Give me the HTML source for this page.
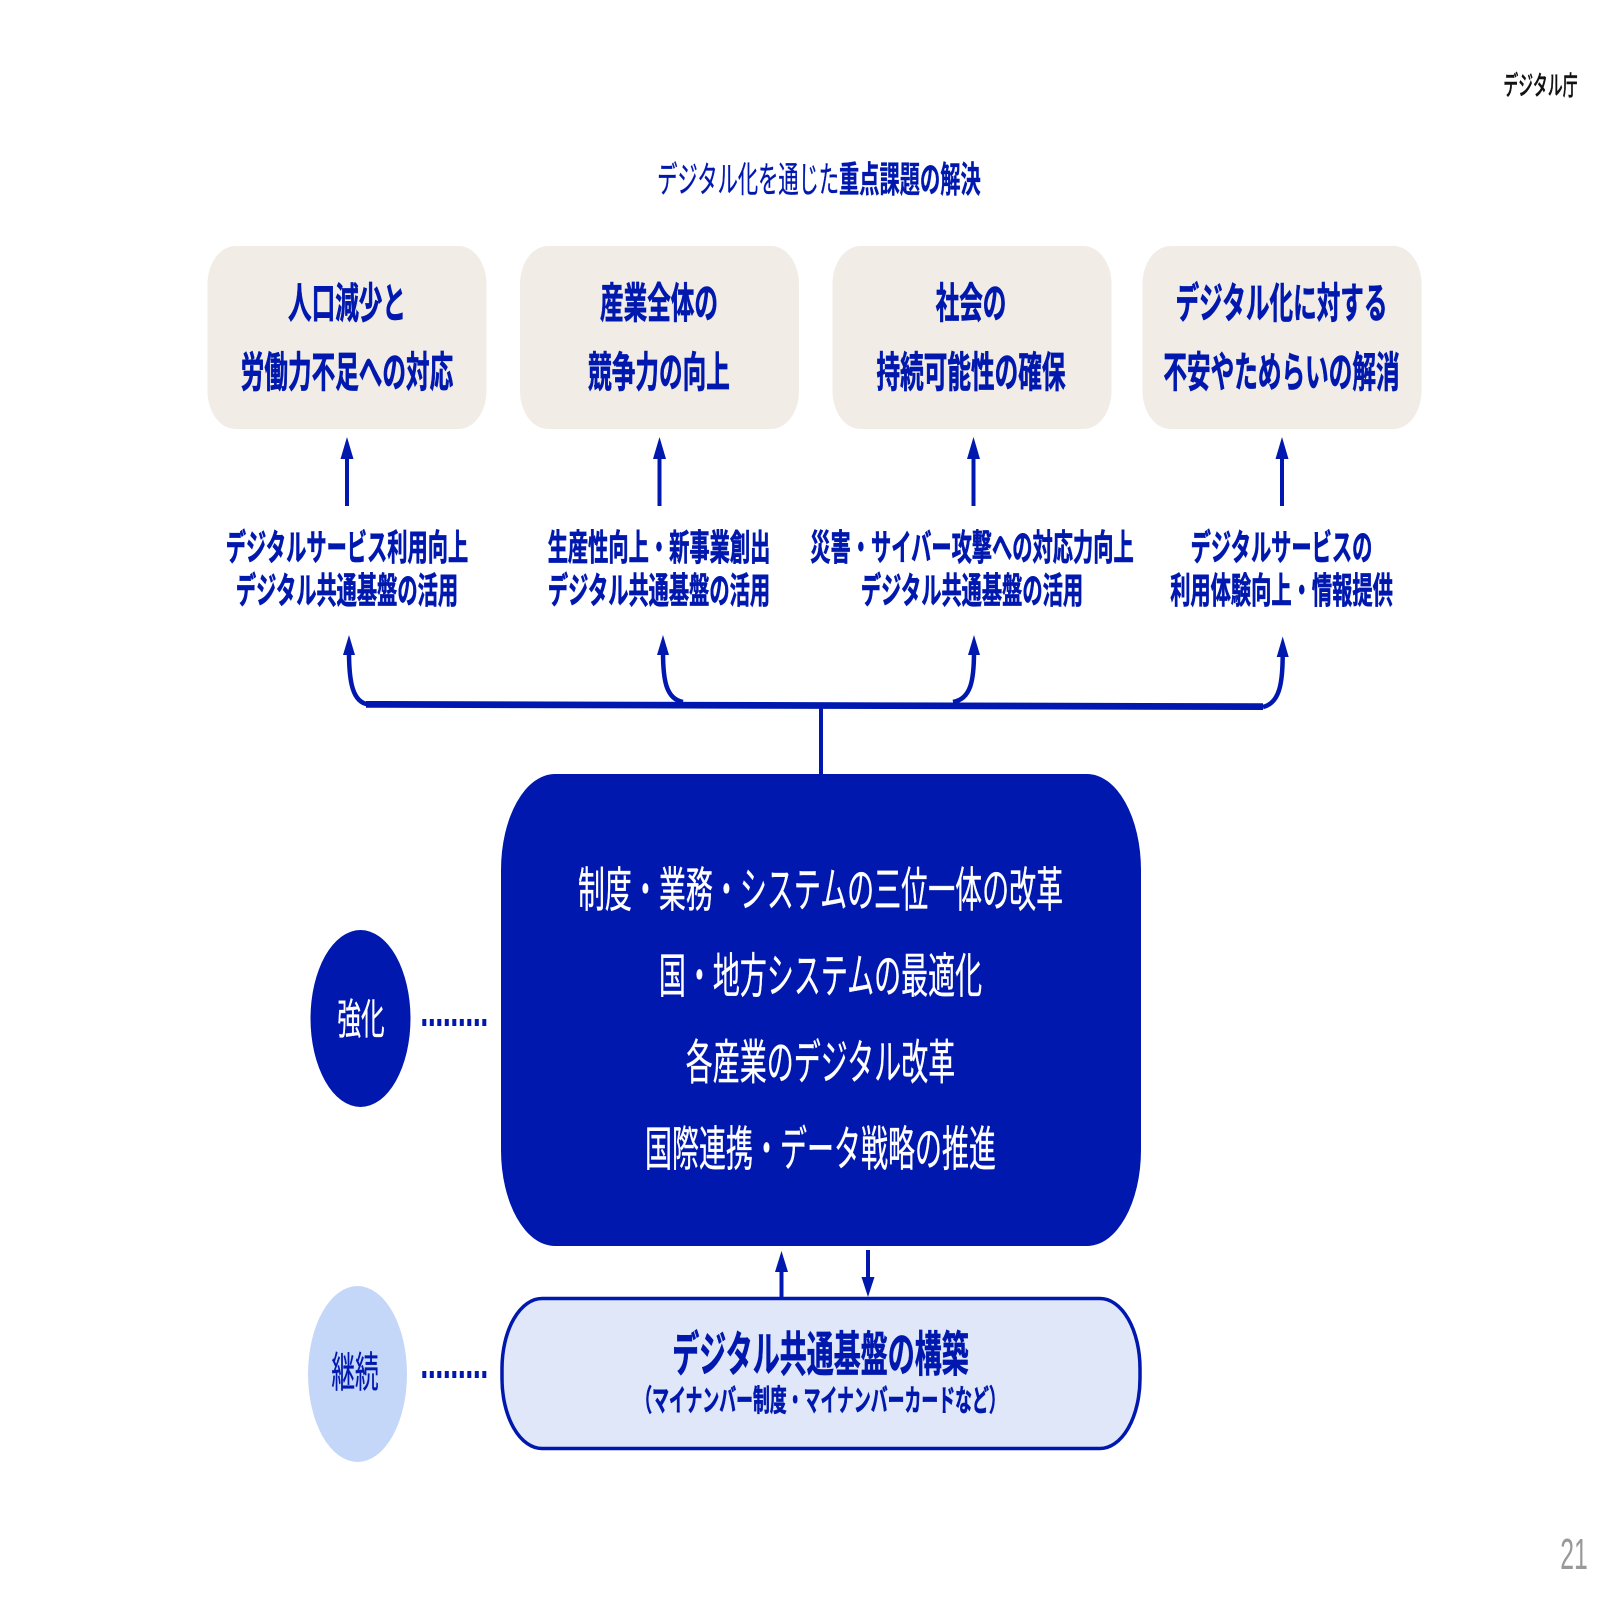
<!DOCTYPE html>
<html lang="ja">
<head>
<meta charset="utf-8">
<title>デジタル化を通じた重点課題の解決</title>
<style>
html,body{margin:0;padding:0;background:#fff;width:1620px;height:1620px;overflow:hidden}
svg{display:block}
text{font-family:"Liberation Sans","Noto Sans CJK JP",sans-serif;text-anchor:middle}
.b{font-weight:700;fill:#0018ae;stroke:#0018ae;stroke-width:.7}
.w{font-weight:400;fill:#fff;stroke:#fff;stroke-width:.35}
</style>
</head>
<body>
<svg xmlns="http://www.w3.org/2000/svg" width="1620" height="1620" viewBox="0 0 1620 1620">
<rect width="1620" height="1620" fill="#fff"/>

<text transform="translate(1540.500,95) scale(.5625,1)" font-size="26.500" font-weight="500" fill="#111" stroke="#111" stroke-width=".4">デジタル庁</text>
<text transform="translate(819,192) scale(.5625,1)" font-size="36" fill="#0018ae" stroke="#0018ae" stroke-width=".35">デジタル化を通じた<tspan font-weight="700">重点課題の解決</tspan></text>

<!-- top boxes -->
<g fill="#f1ede6">
<rect x="207.500" y="246" width="279" height="183" rx="28" ry="38"/>
<rect x="520" y="246" width="279" height="183" rx="28" ry="38"/>
<rect x="832.500" y="246" width="279" height="183" rx="28" ry="38"/>
<rect x="1142.500" y="246" width="279" height="183" rx="28" ry="38"/>
</g>
<g font-size="42">
<text class="b" transform="translate(347,318) scale(.5625,1)">人口減少と</text>
<text class="b" transform="translate(347,387) scale(.5625,1)">労働力不足への対応</text>
<text class="b" transform="translate(659,318) scale(.5625,1)">産業全体の</text>
<text class="b" transform="translate(659,387) scale(.5625,1)">競争力の向上</text>
<text class="b" transform="translate(971,318) scale(.5625,1)">社会の</text>
<text class="b" transform="translate(971,387) scale(.5625,1)">持続可能性の確保</text>
<text class="b" transform="translate(1281.500,318) scale(.5625,1)">デジタル化に対する</text>
<text class="b" transform="translate(1281.500,387) scale(.5625,1)">不安やためらいの解消</text>
</g>

<!-- up arrows -->
<g fill="#0018ae">
<rect x="345" y="456" width="4" height="50"/><polygon points="347,437 340.500,459 353.500,459"/>
<rect x="657.500" y="456" width="4" height="50"/><polygon points="659.500,437 653,459 666,459"/>
<rect x="971.500" y="456" width="4" height="50"/><polygon points="973.500,437 967,459 980,459"/>
<rect x="1280" y="456" width="4" height="50"/><polygon points="1282,437 1275.500,459 1288.500,459"/>
</g>

<!-- mid labels -->
<g font-size="36">
<text class="b" transform="translate(347,560) scale(.5625,1)">デジタルサービス利用向上</text>
<text class="b" transform="translate(347,603) scale(.5625,1)">デジタル共通基盤の活用</text>
<text class="b" transform="translate(659,560) scale(.5625,1)">生産性向上・新事業創出</text>
<text class="b" transform="translate(659,603) scale(.5625,1)">デジタル共通基盤の活用</text>
<text class="b" transform="translate(972,560) scale(.5625,1)">災害・サイバー攻撃への対応力向上</text>
<text class="b" transform="translate(972,603) scale(.5625,1)">デジタル共通基盤の活用</text>
<text class="b" transform="translate(1281.500,560) scale(.5625,1)">デジタルサービスの</text>
<text class="b" transform="translate(1281.500,603) scale(.5625,1)">利用体験向上・情報提供</text>
</g>

<!-- bracket -->
<polygon points="366,701 1263,703.300 1263,710 366,707.700" fill="#0018ae"/>
<g fill="none" stroke="#0018ae" stroke-width="4.500">
<path d="M349 652 C349 680 352 703 369 704.500"/>
<path d="M663 652 C663 680 666 699 683 702"/>
<path d="M974 652 C974 680 971 699 953 702"/>
<path d="M1282.700 654 C1282.700 682 1280 703 1263 707"/>
</g>
<g fill="#0018ae">
<polygon points="349,635 343,655 355,655"/>
<polygon points="663,635 657,655 669,655"/>
<polygon points="974,635 968,655 980,655"/>
<polygon points="1282.700,636.500 1276.700,657 1288.700,657"/>
<rect x="819" y="706" width="4" height="70"/>
</g>

<!-- main box -->
<rect x="501" y="774" width="640" height="472" rx="54" ry="96" fill="#0018ae"/>
<g font-size="48">
<text class="w" transform="translate(820.500,906.500) scale(.5625,1)">制度・業務・システムの三位一体の改革</text>
<text class="w" transform="translate(820.500,992.500) scale(.5625,1)">国・地方システムの最適化</text>
<text class="w" transform="translate(820.500,1079) scale(.5625,1)">各産業のデジタル改革</text>
<text class="w" transform="translate(820.500,1165.500) scale(.5625,1)">国際連携・データ戦略の推進</text>
</g>

<!-- 強化 -->
<ellipse cx="360.500" cy="1018.500" rx="50" ry="88.500" fill="#0018ae"/>
<text class="w" font-size="42" transform="translate(361,1034) scale(.5625,1)">強化</text>
<line x1="422.300" y1="1022.500" x2="489" y2="1022.500" stroke="#0018ae" stroke-width="7" stroke-dasharray="4 3.500"/>

<!-- small arrows -->
<g fill="#0018ae">
<rect x="779.500" y="1268" width="4" height="30"/><polygon points="781.500,1251 775,1272 788,1272"/>
<rect x="866" y="1250" width="4" height="30"/><polygon points="868,1297 861.500,1277 874.500,1277"/>
</g>

<!-- 継続 -->
<ellipse cx="357.500" cy="1374" rx="49.500" ry="88" fill="#c5d7f9"/>
<text font-size="42" fill="#0018ae" stroke="#0018ae" stroke-width=".35" transform="translate(355,1387) scale(.5625,1)">継続</text>
<line x1="422.300" y1="1374.500" x2="489" y2="1374.500" stroke="#0018ae" stroke-width="7" stroke-dasharray="4 3.500"/>

<!-- common platform box -->
<rect x="502" y="1298.500" width="638" height="150" rx="40" ry="70" fill="#dfe7f9" stroke="#0018ae" stroke-width="3.500"/>
<text class="b" font-size="48" transform="translate(820.500,1371) scale(.5625,1)">デジタル共通基盤の構築</text>
<text class="b" font-size="30" transform="translate(820.500,1411) scale(.5625,1)">（マイナンバー制度・マイナンバーカードなど）</text>

<text transform="translate(1574,1569) scale(.5625,1)" font-size="44" fill="#999">21</text>
</svg>
</body>
</html>
